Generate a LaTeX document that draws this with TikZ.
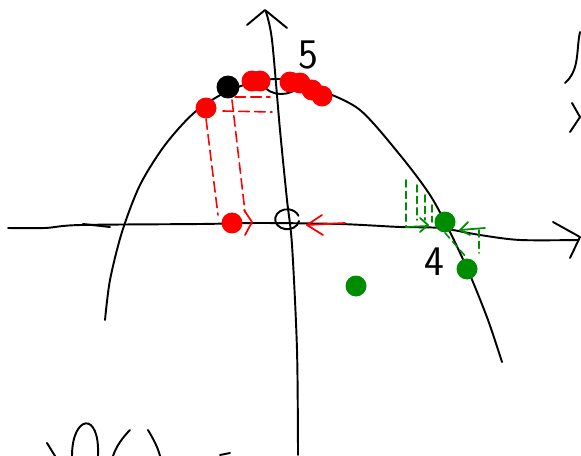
\documentclass[tikz,border=0pt]{standalone}
\begin{document}
\begin{tikzpicture}[x=0.02cm,y=-0.02cm,line cap=round,line join=round,
ink/.style={draw=black,line width=1.1pt},
redDash/.style={draw=red,line width=0.9pt,dash pattern=on 6pt off 3pt},
greenDash/.style={draw=green!55!black,line width=0.9pt,dash pattern=on 4pt off 2.5pt},
redDot/.style={circle,fill=red,minimum size=0.42cm,inner sep=0pt},
greenDot/.style={circle,fill=green!55!black,minimum size=0.42cm,inner sep=0pt},
blackDot/.style={circle,fill=black,minimum size=0.46cm,inner sep=0pt},
digit/.style={font=\sffamily\fontsize{24}{24}\selectfont,inner sep=0pt}]
\path[use as bounding box] (0,0) rectangle (581,456);
% axes
\draw[ink] plot[smooth] coordinates {(8,228) (45,228) (80,225) (200,224) (260,223) (340,224) (400,227) (440,228) (480,235) (520,240) (578,240)};
\draw[ink] (553,222)--(580,237)--(570,258);
\draw[ink] (83,224)--(110,227);
\draw[ink] plot[smooth] coordinates {(298,455) (297,350) (292,245) (287,200) (280,130) (272,40) (266,12)};
\draw[ink] (247,25)--(265,10)--(287,28);
\draw[ink] (299,221) arc[start angle=10,end angle=340,x radius=12,y radius=10];
% parabola
\draw[ink] plot[smooth] coordinates {(105,320) (110,280) (122,232) (140,185) (165,145) (195,112) (230,90) (265,80) (290,80) (320,90) (360,110) (400,155) (430,195) (450,232) (470,275) (488,320) (502,362)};
\draw[ink] (262,84) .. controls (270,97) and (290,97) .. (300,86);
% labels
\node[digit] (five) at (308,55) {5};
\node[digit] (four) at (434,262) {4};
% red points
\node[redDot] (r1) at (206,108) {};
\node[redDot] (r2) at (252,81) {};
\node[redDot] (r3) at (260,81) {};
\node[redDot] (r4) at (290,82) {};
\node[redDot] (r5) at (300,83) {};
\node[redDot] (r6) at (312,90) {};
\node[redDot] (r7) at (322,96) {};
\node[redDot] (r8) at (232,223) {};
\node[blackDot] (b1) at (228,87) {};
\draw[redDash] (r1.south)--(218,215);
\draw[redDash] (232,100)--(245,212);
\draw[redDash] (235,97)--(270,97);
\draw[redDash] (223,111)--(272,112);
\draw[red,line width=1pt] (244,210)--(252,222)--(245,235);
\coordinate (rs) at (345,223);
\draw[red,line width=1pt] (rs)--(307,225);
\draw[red,line width=1pt] (322,215)--(307,225)--(323,235);
% green points
\node[greenDot] (g1) at (445,222) {};
\node[greenDot] (g2) at (467,269) {};
\node[greenDot] (g3) at (356,286) {};
\draw[greenDash] (406,180)--(406,227);
\draw[greenDash] (417,185)--(417,220);
\draw[greenDash] (425,195)--(425,220);
\draw[greenDash] (432,205)--(432,222);
\draw[greenDash] (g1.south)--(g2.north);
\draw[greenDash] (479,230)--(479,253);
\draw[green!55!black,line width=1pt] (406,227)--(428,226);
\draw[green!55!black,line width=1pt] (420,218)--(428,225)--(420,232);
\draw[green!55!black,line width=1pt] (485,228)--(460,230);
\draw[green!55!black,line width=1pt] (468,222)--(460,230)--(470,235);
% strokes cut by the edges
\draw[ink] (580,32) .. controls (576,50) and (580,70) .. (565,83);
\draw[ink] (572,103)--(580,117)--(570,132);
\draw[ink] (47,443)--(55,456);
\draw[ink] (72,456) .. controls (72,415) and (100,410) .. (98,456);
\draw[ink] (130,430) .. controls (122,438) and (116,447) .. (113,456);
\draw[ink] (148,430) .. controls (154,440) and (158,448) .. (160,456);
\draw[ink] (220,455)--(230,453);
\end{tikzpicture}
\end{document}
